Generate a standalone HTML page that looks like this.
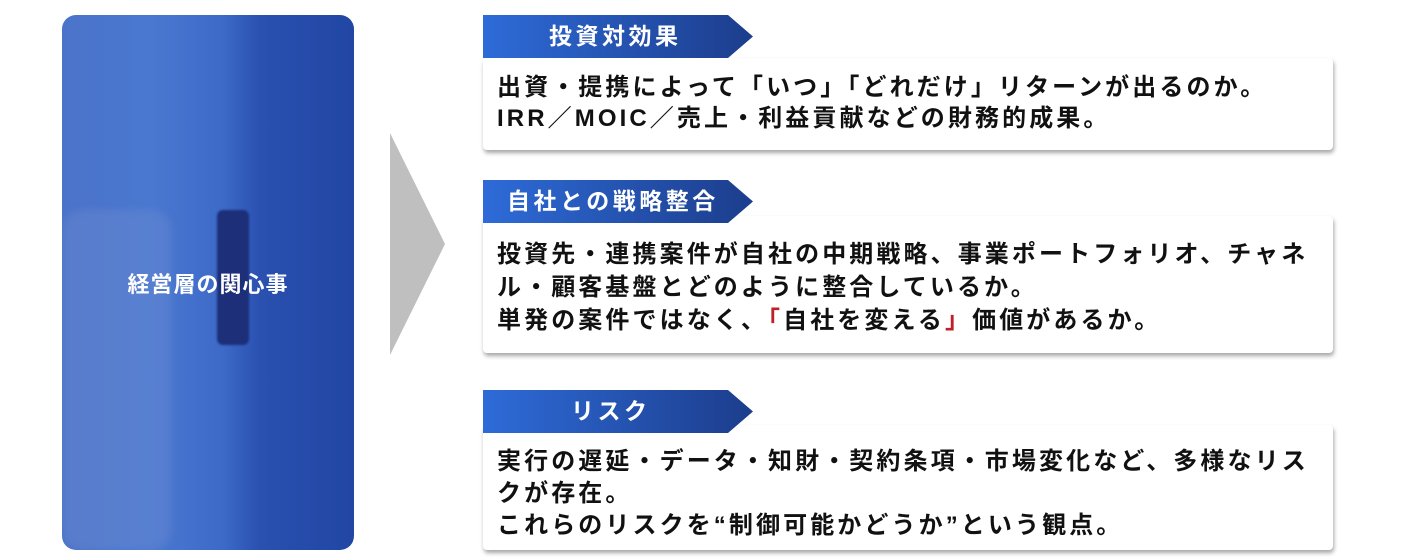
<!DOCTYPE html>
<html><head><meta charset="utf-8"><style>
body{margin:0;width:1402px;height:558px;background:#fff;position:relative;overflow:hidden;font-family:"Liberation Sans","Noto Sans CJK JP",sans-serif;}
.panel{position:absolute;left:62px;top:15px;width:292px;height:535px;border-radius:14px;overflow:hidden;
background:linear-gradient(90deg,#4b73c9 0%,#4a78d0 30%,#3d6ac8 55%,#2a50b0 68%,#2146a3 100%);}
.panel .t{position:absolute;left:0;right:0;top:252px;text-align:center;color:#fff;font-weight:bold;font-size:22px;letter-spacing:1px;}
.tag{position:absolute;left:483px;width:270px;height:43px;background:linear-gradient(90deg,#2e6bd8,#1c3d8c);
clip-path:polygon(0 0,245px 0,270px 50%,245px 100%,0 100%);color:#fff;font-weight:bold;font-size:23px;letter-spacing:3.5px;line-height:43px;}
.box{position:absolute;left:483px;width:850px;background:#fff;border-radius:4px;box-shadow:1px 3px 4px rgba(0,0,0,.35);}
.box p{margin:0;position:absolute;left:14px;font-weight:bold;font-size:24px;letter-spacing:3.1px;color:#111;white-space:nowrap;}
.r{color:#c0202a}
</style></head><body>
<div class="panel">
<div style="position:absolute;left:0;top:195px;width:110px;height:340px;background:rgba(130,150,210,.25);border-radius:20px;filter:blur(4px)"></div>
<div style="position:absolute;left:155px;top:195px;width:32px;height:135px;background:#1c2f78;border-radius:6px;filter:blur(1px)"></div>
<div class="t">経営層の関心事</div>
</div>
<svg style="position:absolute;left:390px;top:133px" width="56" height="223"><polygon points="0,0 55,111 0,222" fill="#bfbfbf"/></svg>

<div class="box" style="top:58px;height:92px"><p style="top:9px">出資・提携によって「いつ」「どれだけ」リターンが出るのか。</p><p style="top:40px">IRR／MOIC／売上・利益貢献などの財務的成果。</p></div>
<div class="tag" style="top:15px"><span style="margin-left:66px">投資対効果</span></div>

<div class="box" style="top:216px;height:137px"><p style="top:18px">投資先・連携案件が自社の中期戦略、事業ポートフォリオ、チャネ</p><p style="top:51px">ル・顧客基盤とどのように整合しているか。</p><p style="top:84px">単発の案件ではなく、<span class="r">「</span>自社を変える<span class="r">」</span>価値があるか。</p></div>
<div class="tag" style="top:180px"><span style="margin-left:24px">自社との戦略整合</span></div>

<div class="box" style="top:425px;height:125px"><p style="top:16px">実行の遅延・データ・知財・契約条項・市場変化など、多様なリス</p><p style="top:48px">クが存在。</p><p style="top:80px">これらのリスクを“制御可能かどうか”という観点。</p></div>
<div class="tag" style="top:390px"><span style="margin-left:88px">リスク</span></div>
</body></html>
